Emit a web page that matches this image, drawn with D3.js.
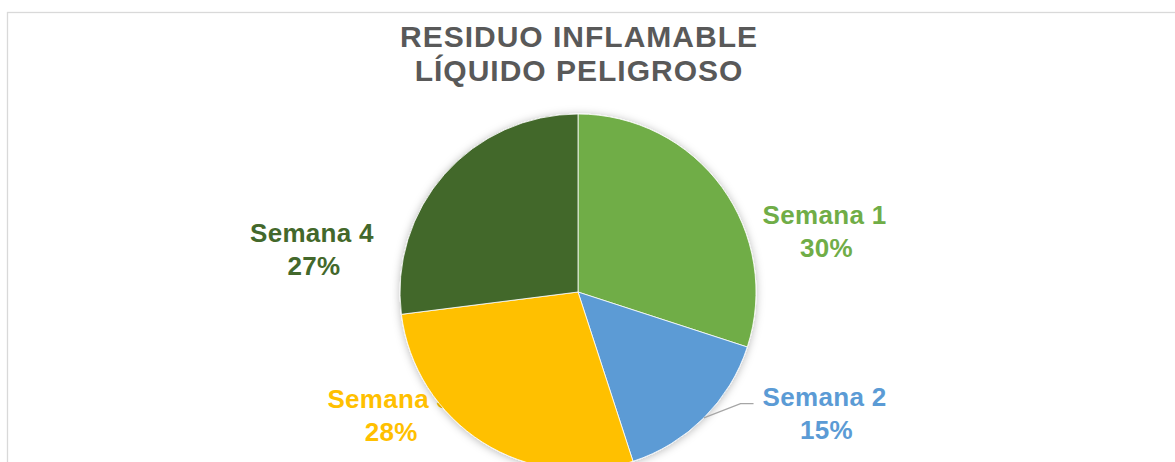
<!DOCTYPE html>
<html lang="es">
<head>
  <meta charset="UTF-8">
  <title>Residuo inflamable líquido peligroso</title>
  <style>
      html, body {
          margin: 0;
          padding: 0;
          background: #fff;
      }
      svg {
          display: block;
          font-family: "Liberation Sans", Arial, sans-serif;
      }
      .title {
          font-size: 30px;
          font-weight: bold;
          fill: #595959;
          letter-spacing: 1px;
      }
      .label {
          font-size: 26px;
          font-weight: bold;
          letter-spacing: 0.3px;
      }
  </style>
</head>
<body>
    <svg width="1175" height="462"></svg>
    <script src="https://d3js.org/d3.v7.min.js"></script>
    <script>

        // datos del gráfico
        var categories = ["Semana 1", "Semana 2", "Semana 3", "Semana 4"];
        var values = [30, 15, 28, 27];
        var colors = ["#70AD47", "#5B9BD5", "#FFC000", "#43682B"];
        var titleLines = ["RESIDUO INFLAMABLE", "LÍQUIDO PELIGROSO"];

        var svg = d3.select("svg"),
            cx = 578,
            cy = 292,
            radius = 178;

        // marco del área del gráfico
        svg.append("rect")
            .attr("x", 7.5)
            .attr("y", 12.5)
            .attr("width", 1300)
            .attr("height", 600)
            .attr("fill", "none")
            .attr("stroke", "#d9d9d9")
            .attr("stroke-width", 1.3);

        var defs = svg.append("defs");
        defs.append("filter")
            .attr("id", "shadow")
            .attr("x", "-20%").attr("y", "-20%")
            .attr("width", "140%").attr("height", "140%")
            .append("feDropShadow")
            .attr("dx", 0)
            .attr("dy", 1)
            .attr("stdDeviation", 4)
            .attr("flood-color", "#000")
            .attr("flood-opacity", 0.28);

        // título
        svg.append("g")
            .selectAll("text")
            .data(titleLines)
            .enter().append("text")
            .attr("class", "title")
            .attr("x", cx + 1)
            .attr("y", function(d, i) { return 47 + i * 34; })
            .attr("text-anchor", "middle")
            .text(function(d) { return d; });

        var total = d3.sum(values);
        var data = categories.map(function(c, i) {
            return {name: c, value: values[i], color: colors[i]};
        });

        var pie = d3.pie()
            .sort(null)
            .value(function(d) { return d.value; });

        var arcs = pie(data);

        var arc = d3.arc()
            .innerRadius(0)
            .outerRadius(radius);

        var edgeArc = d3.arc()
            .innerRadius(radius)
            .outerRadius(radius);

        // posiciones de etiquetas (relativas al centro, en unidades del radio)
        var labelPos = [
            {dx: 1.385, dy: -0.375},
            {dx: 1.385, dy: 0.65},
            {dx: -1.06, dy: 0.66},
            {dx: -1.495, dy: -0.275}
        ];

        var g = svg.append("g")
            .attr("transform", "translate(" + cx + "," + cy + ")");

        // etiquetas (debajo de la torta, como en el original)
        var labels = g.append("g")
            .selectAll("text")
            .data(arcs)
            .enter().append("text")
            .attr("class", "label")
            .attr("text-anchor", "middle")
            .attr("fill", function(d) { return d.data.color; })
            .attr("transform", function(d, i) {
                return "translate(" + (labelPos[i].dx * radius) + "," + (labelPos[i].dy * radius) + ")";
            });

        labels.append("tspan")
            .attr("x", 0)
            .attr("dy", "-0.05em")
            .text(function(d) { return d.data.name; });

        labels.append("tspan")
            .attr("x", 2)
            .attr("dy", "1.27em")
            .text(function(d) { return Math.round(d.data.value / total * 100) + "%"; });

        // torta
        g.append("g")
            .attr("filter", "url(#shadow)")
            .selectAll("path")
            .data(arcs)
            .enter().append("path")
            .attr("d", arc)
            .attr("fill", function(d) { return d.data.color; })
            .attr("stroke", "#ffffff")
            .attr("stroke-width", 0.8);

        // línea guía para Semana 2
        var s2 = arcs[1];
        var p0 = edgeArc.centroid(s2);
        var lx = labelPos[1].dx * radius, ly = labelPos[1].dy * radius;
        g.append("polyline")
            .attr("points", [
                p0,
                [lx - 84, ly - 4],
                [lx - 71, ly - 4]
            ].map(function(p) { return p.join(","); }).join(" "))
            .attr("fill", "none")
            .attr("stroke", "#a6a6a6")
            .attr("stroke-width", 1.3);

    </script>
</body>
</html>
